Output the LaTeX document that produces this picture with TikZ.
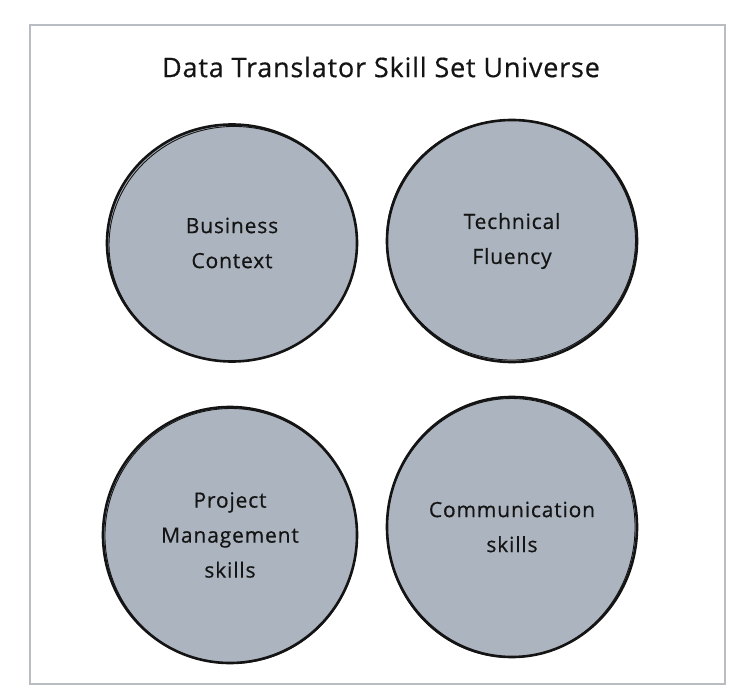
\documentclass[tikz,border=0pt]{standalone}
\usepackage{fontspec}
\setmainfont{Open Sans}[FakeBold=0.5]
\newfontfamily\titlefont{Open Sans}[LetterSpace=3,FakeBold=0.5]
\newfontfamily\labelfont{Open Sans}[LetterSpace=4,FakeBold=0.5]
\usetikzlibrary{shapes.geometric}
\definecolor{circfill}{HTML}{ACB5BF}
\definecolor{framegray}{HTML}{B9BDC2}
\definecolor{inkblack}{HTML}{141414}
\begin{document}
\begin{tikzpicture}[x=1pt,y=-1pt,
  skill/.style={ellipse, fill=circfill, draw=inkblack, line width=2.6pt, inner sep=0pt,
     align=center, font=\labelfont\fontsize{21}{35}\selectfont, text=inkblack},
  sketch/.style={draw=inkblack, line width=0.9pt}]
\useasboundingbox (0,0) rectangle (754,700);
\fill[white] (0,0) rectangle (754,700);
\draw[framegray, line width=2.2pt] (30,25) rectangle (725,684);
\node[font=\titlefont\fontsize{27}{30}\selectfont, text=inkblack] (title) at (381,67) {Data Translator Skill Set Universe};
\node[skill, minimum width=250pt, minimum height=237pt] (bc) at (232,243) {Business\\Context};
\node[skill, minimum width=250pt, minimum height=242pt] (tf) at (512,241) {Technical\\Fluency};
\node[skill, minimum width=254pt, minimum height=256pt] (pm) at (230,535) {Project\\Management\\skills};
\node[skill, minimum width=250pt, minimum height=260pt] (cs) at (512,527) {Communication\\skills};
\draw[sketch] (233,244) ellipse[x radius=124, y radius=117.5, rotate=4];
\draw[sketch] (511,240) ellipse[x radius=124.5, y radius=120, rotate=-5];
\draw[sketch] (231,536) ellipse[x radius=126, y radius=127.5, rotate=6];
\draw[sketch] (511,528) ellipse[x radius=124, y radius=129.5, rotate=-4];
\end{tikzpicture}
\end{document}
